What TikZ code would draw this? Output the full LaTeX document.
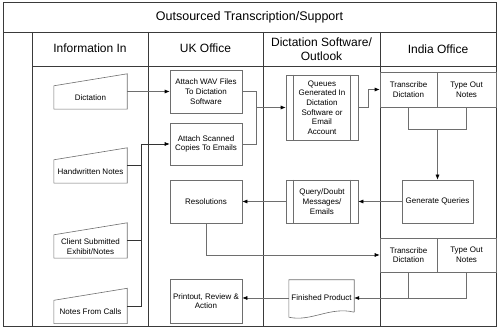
\documentclass[tikz,border=0pt]{standalone}
\usepackage{fontspec}
\setmainfont{Liberation Sans}
\usetikzlibrary{arrows.meta,positioning,calc}
\definecolor{framegray}{HTML}{3A3A3A}
\definecolor{linegray}{HTML}{6E6E6E}

\begin{document}
\begin{tikzpicture}[x=1pt,y=-1pt,font=\fontsize{8}{9.7}\selectfont,
 lane/.style={draw=framegray,line width=0.8pt},
 procbox/.style={draw=linegray,line width=0.6pt,minimum width=72pt,minimum height=43pt,align=center,inner sep=1pt},
 inbox/.style={minimum width=73pt,minimum height=23pt,align=center,inner sep=1pt},
 cell/.style={draw=linegray,line width=0.6pt,minimum width=57pt,minimum height=35pt,align=center,inner sep=1pt},
 head/.style={font=\fontsize{12}{14}\selectfont,align=center},
 link/.style={draw=linegray,line width=0.6pt},
 arr/.style={link,-{Latex[length=5pt,width=4pt,color=black]}}]
\useasboundingbox (0,0) rectangle (499,331);
% swimlane frame
\draw[lane,line width=1pt] (3,3) rectangle (496,327);
\draw[lane] (3,32) -- (496,32);
\draw[lane] (32,32) -- (32,327);
\foreach \x in {148,263,380} \draw[lane] (\x,32) -- (\x,327);
\draw[lane] (32,66) -- (496,66);
\node[font=\fontsize{12.5}{15}\selectfont] (title) at (249.5,17.5) {Outsourced Transcription/Support};
\node[head] (hin) at (90,48) {Information In};
\node[head] (huk) at (205.5,48) {UK Office};
\node[head] (hsw) at (321.5,49) {Dictation Software/\\Outlook};
\node[head] (hind) at (438,49) {India Office};
% information in
\node[inbox] (dict) at (90.5,97.5) {Dictation};
\node[inbox] (hand) at (90.5,171.5) {Handwritten Notes};
\node[inbox] (client) at (90.5,246.5) {Client Submitted\\Exhibit/Notes};
\node[inbox] (calls) at (90.5,312) {Notes From Calls};
\foreach \n in {dict,hand,client,calls}
 \draw[link] (\n.south west) -- (\n.south east) -- ([yshift=12pt]\n.north east) -- (\n.north west) -- cycle;
% uk office
\node[procbox] (wav) at (206,91.5) {Attach WAV Files\\To Dictation\\Software};
\node[procbox,minimum height=42pt] (scan) at (206,144) {Attach Scanned\\Copies To Emails};
\node[procbox] (resol) at (206,201.5) {Resolutions};
\node[procbox,minimum height=44pt] (print) at (206,301) {Printout, Review \&\\Action};
% dictation software / outlook
\node[procbox,minimum height=65pt] (queues) at (322,107.5) {Queues\\Generated In\\Dictation\\Software or\\Email\\Account};
\node[procbox] (query) at (322,201.5) {Query/Doubt\\Messages/\\Emails};
\foreach \n in {queues,query} {
 \draw[link] ([xshift=8pt]\n.north west) -- ([xshift=8pt]\n.south west);
 \draw[link] ([xshift=-8pt]\n.north east) -- ([xshift=-8pt]\n.south east);
}
\node[inbox,minimum width=65pt,minimum height=36pt] (fin) at (321.5,298) {Finished Product};
\draw[link] ([yshift=4pt]fin.south east) -- (fin.north east) -- (fin.north west) -- ([yshift=-1pt]fin.south west)
 .. controls ([xshift=22pt,yshift=-6pt]fin.south west) and ([xshift=-24pt,yshift=10pt]fin.south east) .. ([yshift=4pt]fin.south east);
% india office
\node[cell] (trans1) at (408.5,89.5) {Transcribe\\Dictation};
\node[cell,minimum width=59pt] (type1) at (466.5,89.5) {Type Out\\Notes};
\node[procbox,minimum width=71pt] (genq) at (437.5,201.5) {Generate Queries};
\node[cell,minimum height=34pt] (trans2) at (408.5,255) {Transcribe\\Dictation};
\node[cell,minimum width=59pt,minimum height=34pt] (type2) at (466.5,255) {Type Out\\Notes};
% connectors
\coordinate (merge) at (256,107.5);
\coordinate (gather) at (141,144);
\draw[arr] (wav.west -| dict.east) -- (wav.west);
\draw[link] (wav.east) -| (merge);
\draw[link] (scan.east) -| (merge);
\draw[arr] (merge) -- (queues.west);
\draw[arr] (queues.east) -- ++(10,0) |- (trans1.west);
\foreach \n in {hand,client,calls} \draw[link,draw=black!80] ([yshift=6pt]\n.east) -| (gather);
\draw[arr,draw=black!80] (gather) -- (scan.west);
\draw[link] (trans1.south) -- ++(0,22) coordinate (split1) -| (type1.south);
\draw[arr] (split1 -| genq.north) -- (genq.north);
\draw[arr] (genq.west) -- (query.east);
\draw[arr] (query.west) -- (resol.east);
\draw[arr] (resol.south) |- (trans2.west);
\draw[link] (trans2.south) -- (trans2.south |- fin.east);
\draw[arr] (type2.south) |- (fin.east);
\draw[arr] (fin.west) -- (print.east |- fin.west);
\end{tikzpicture}
\end{document}
